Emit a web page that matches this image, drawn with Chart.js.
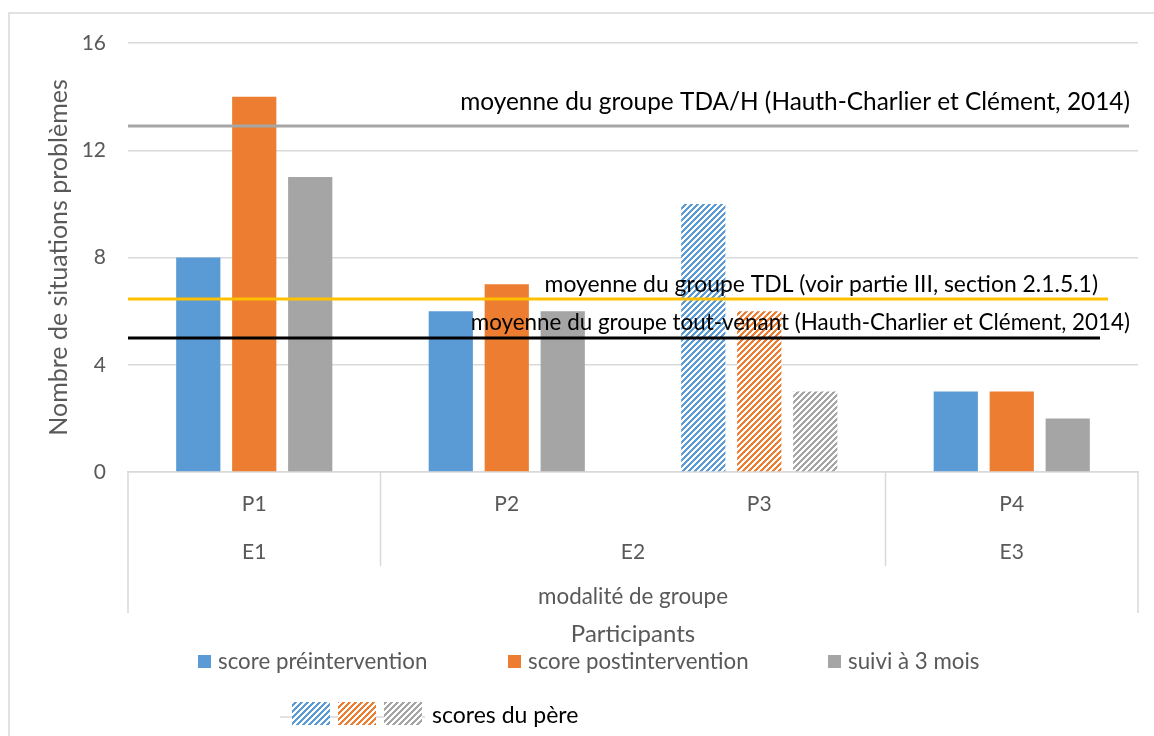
<!DOCTYPE html>
<html>
<head>
<meta charset="utf-8">
<script src="https://cdn.jsdelivr.net/npm/chart.js@4.4.1/dist/chart.umd.min.js"></script>
<style>
  html, body { margin: 0; padding: 0; background: #fff; }
</style>
</head>
<body>
<canvas id="chart" width="1154" height="736"></canvas>
<script>
"use strict";

// Data
var participants = ["P1", "P2", "P3", "P4"];
var groupLabels = ["E1", "E2", "E3"];
var groupSpans = [[0, 0], [1, 2], [3, 3]];   // first / last participant of each group
var seriesNames = ["score préintervention", "score postintervention", "suivi à 3 mois"];
var preScores = [8, 6, 10, 3];
var postScores = [14, 7, 6, 3];
var followUpScores = [11, 6, 3, 2];
var fatherIndex = 2;                           // P3: scores du père (hatched)
var fatherLabel = "scores du père";
var refLabels = [
    "moyenne du groupe TDA/H (Hauth-Charlier et Clément, 2014)",
    "moyenne du groupe TDL (voir partie III, section 2.1.5.1)",
    "moyenne du groupe tout-venant (Hauth-Charlier et Clément, 2014)"
];
var refValues = [12.9, 6.45, 5];
var yTicks = [0, 4, 8, 12, 16];
var xTitle = "Participants";
var groupTitle = "modalité de groupe";
var yTitle = "Nombre de situations problèmes";

// Colours
var blue = "#5b9bd5";
var orange = "#ed7d31";
var grey = "#a5a5a5";
var seriesColours = [blue, orange, grey];
var refColours = ["#a6a6a6", "#ffc000", "#000000"];
var axisGrey = "#d9d9d9";
var textGrey = "#595959";
var fontFamily = "Lato, 'Open Sans', sans-serif";

// Wide upward diagonal hatch, like Excel's pattern fill
function makeHatch(colour) {
    var c = document.createElement("canvas");
    c.width = 6;
    c.height = 6;
    var g = c.getContext("2d");
    g.fillStyle = "#ffffff";
    g.fillRect(0, 0, 6, 6);
    g.fillStyle = colour;
    for (var x = 0; x < 6; x++) {
        for (var y = 0; y < 6; y++) {
            if ((x + y) % 6 < 3) g.fillRect(x, y, 1, 1);
        }
    }
    return g.createPattern(c, "repeat");
}

var hatches = seriesColours.map(makeHatch);

function barColours(s) {
    return participants.map(function(p, i) {
        return i == fatherIndex ? hatches[s] : seriesColours[s];
    });
}

// Reference lines with their captions
var refLinesPlugin = {
    id: "refLines",
    afterDatasetsDraw: function(chart) {
        var ctx = chart.ctx;
        var y = chart.scales.y;
        var left = chart.chartArea.left;
        var lineEnds = [1129, 1108, 1100];
        var textRight = [1130, 1098, 1130];
        var textLift = [24, 14, 15];
        var textSize = [24.4, 22.9, 22.4];
        ctx.save();
        ctx.lineWidth = 3;
        ctx.textAlign = "right";
        ctx.textBaseline = "middle";
        for (var i = 0; i < refValues.length; i++) {
            var py = y.getPixelForValue(refValues[i]);
            ctx.strokeStyle = refColours[i];
            ctx.beginPath();
            ctx.moveTo(left, py);
            ctx.lineTo(lineEnds[i], py);
            ctx.stroke();
            ctx.font = textSize[i] + "px " + fontFamily;
            ctx.fillStyle = "#000";
            ctx.fillText(refLabels[i], textRight[i], py - textLift[i]);
        }
        ctx.restore();
    }
};

// Multi-level category axis, outer frame and legend
var decorPlugin = {
    id: "decor",
    afterDraw: function(chart) {
        var ctx = chart.ctx;
        var area = chart.chartArea;
        var x = chart.scales.x;
        var axisY = area.bottom;
        var cx = (area.left + area.right) / 2;
        ctx.save();

        // outer frame
        ctx.strokeStyle = axisGrey;
        ctx.lineWidth = 1.5;
        ctx.strokeRect(9, 13, 1170, 800);

        // category dividers
        ctx.beginPath();
        ctx.moveTo(area.left, axisY);
        ctx.lineTo(area.left, 613);
        ctx.moveTo(area.right, axisY);
        ctx.lineTo(area.right, 613);
        for (var g = 0; g < groupSpans.length - 1; g++) {
            var last = groupSpans[g][1];
            var bx = (x.getPixelForValue(last) + x.getPixelForValue(last + 1)) / 2;
            ctx.moveTo(bx, axisY);
            ctx.lineTo(bx, 566);
        }
        ctx.stroke();

        // group labels
        ctx.fillStyle = textGrey;
        ctx.textAlign = "center";
        ctx.textBaseline = "middle";
        ctx.font = "21px " + fontFamily;
        for (var k = 0; k < groupLabels.length; k++) {
            var gx = (x.getPixelForValue(groupSpans[k][0]) + x.getPixelForValue(groupSpans[k][1])) / 2;
            ctx.fillText(groupLabels[k], gx, 552);
        }
        ctx.font = "22.4px " + fontFamily;
        ctx.fillText(groupTitle, cx, 597);
        ctx.font = "24px " + fontFamily;
        ctx.fillText(xTitle, cx, 634);

        // legend row 1
        var boxX = [198, 508, 828];
        ctx.font = "22.3px " + fontFamily;
        ctx.textAlign = "left";
        for (var s = 0; s < seriesNames.length; s++) {
            ctx.fillStyle = seriesColours[s];
            ctx.fillRect(boxX[s], 655, 13, 13);
            ctx.fillStyle = textGrey;
            ctx.fillText(seriesNames[s], boxX[s] + 20, 662);
        }

        // legend row 2: father's scores
        ctx.strokeStyle = axisGrey;
        ctx.lineWidth = 1.5;
        ctx.beginPath();
        ctx.moveTo(280, 717);
        ctx.lineTo(425, 717);
        ctx.stroke();
        var swX = [292, 338, 384];
        for (var h = 0; h < hatches.length; h++) {
            ctx.fillStyle = hatches[h];
            ctx.fillRect(swX[h], 702, 38, 23);
        }
        ctx.fillStyle = "#000";
        ctx.font = "23px " + fontFamily;
        ctx.fillText(fatherLabel, 432, 716);

        ctx.restore();
    }
};

var datasets = [preScores, postScores, followUpScores].map(function(values, s) {
    return {
        label: seriesNames[s],
        data: values,
        backgroundColor: barColours(s),
        borderWidth: 0,
        categoryPercentage: 0.665,
        barPercentage: 0.79
    };
});

new Chart(document.getElementById("chart"), {
    type: "bar",
    data: {
        labels: participants,
        datasets: datasets
    },
    options: {
        responsive: false,
        animation: false,
        layout: { padding: { left: 0, right: 16, top: 43, bottom: 0 } },
        plugins: {
            legend: { display: false },
            tooltip: { enabled: false }
        },
        scales: {
            x: {
                grid: { display: false, drawTicks: false },
                border: { display: true, color: axisGrey, width: 1.5 },
                ticks: {
                    color: textGrey,
                    font: { family: fontFamily, size: 21 },
                    padding: 20
                },
                afterFit: function(s) { s.height = 264; }
            },
            y: {
                min: yTicks[0],
                max: yTicks[yTicks.length - 1],
                afterBuildTicks: function(s) {
                    s.ticks = yTicks.map(function(v) { return { value: v }; });
                },
                grid: { color: axisGrey, lineWidth: 1.5, drawTicks: false },
                border: { display: false },
                ticks: {
                    color: textGrey,
                    font: { family: fontFamily, size: 21 },
                    padding: 22
                },
                title: {
                    display: true,
                    text: yTitle,
                    color: textGrey,
                    font: { family: fontFamily, size: 25 },
                    padding: { top: 44, bottom: 0 }
                },
                afterFit: function(s) { s.width = 128; }
            }
        }
    },
    plugins: [refLinesPlugin, decorPlugin]
});
</script>
</body>
</html>
